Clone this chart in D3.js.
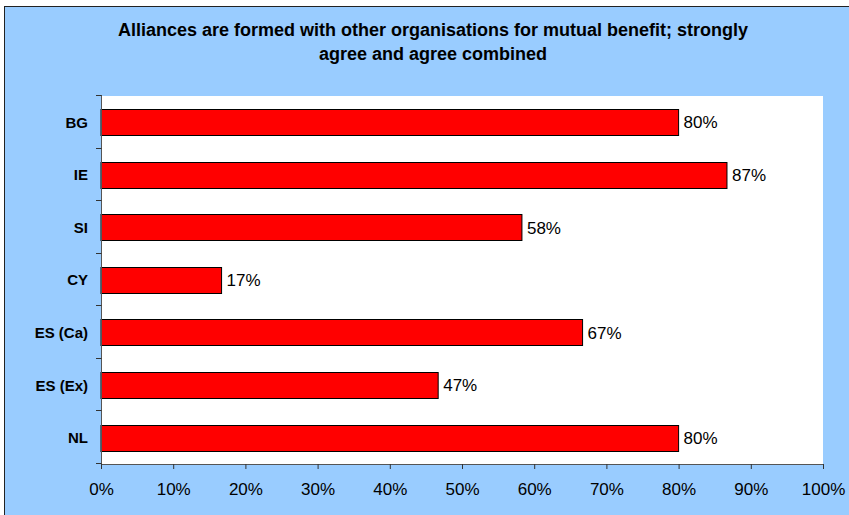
<!DOCTYPE html>
<html>
<head>
<meta charset="utf-8">
<script src="https://cdn.jsdelivr.net/npm/d3@7"></script>
<style>
  body { margin: 0; background: #fff; }
  text { font-family: "Liberation Sans", Arial, sans-serif; fill: #000; }
</style>
</head>
<body>
<div id="chart"></div>
<script>
// data
var categories = ["BG", "IE", "SI", "CY", "ES (Ca)", "ES (Ex)", "NL"];
var values = [0.80, 0.867, 0.583, 0.167, 0.667, 0.467, 0.80];
var tickValues = [0, 0.1, 0.2, 0.3, 0.4, 0.5, 0.6, 0.7, 0.8, 0.9, 1.0];
var titleLines = ["Alliances are formed with other organisations for mutual benefit; strongly",
                  "agree and agree combined"];

var view_width = 849, view_height = 515;
var margin = {top: 96, bottom: 51, left: 101, right: 26};
var width = view_width - margin.left - margin.right;
var height = view_height - margin.top - margin.bottom;

var svg = d3.select("#chart")
    .append("svg")
        .attr("width", view_width)
        .attr("height", view_height);

// outer background with border on left and top
svg.append("rect")
    .attr("x", 4.5).attr("y", 6.5)
    .attr("width", view_width).attr("height", view_height)
    .attr("fill", "#99CCFF")
    .attr("stroke", "#222")
    .attr("stroke-width", 1);

svg.selectAll(".title")
    .data(titleLines)
    .enter()
    .append("text")
        .attr("class", "title")
        .attr("x", 433)
        .attr("y", function(d, i) { return 36 + i * 24; })
        .attr("text-anchor", "middle")
        .style("font-size", "18px")
        .style("font-weight", "bold")
        .text(function(d) { return d; });

var g = svg.append("g")
    .attr("transform", "translate(" + margin.left + "," + margin.top + ")");

g.append("rect")
    .attr("width", width)
    .attr("height", height)
    .attr("fill", "#fff");

var x_scale = d3.scaleLinear()
    .domain([0, 1])
    .range([0, width]);

var y_scale = d3.scaleBand()
    .domain(categories)
    .range([0, height])
    .paddingInner(0.5)
    .paddingOuter(0.25);

var data = categories.map(function(c, i) { return {cat: c, value: values[i]}; });

g.selectAll(".bar")
    .data(data)
    .enter()
    .append("rect")
        .attr("class", "bar")
        .attr("x", x_scale(0))
        .attr("y", function(d) { return Math.round(y_scale(d.cat)) + 0.5; })
        .attr("width", function(d) { return x_scale(d.value); })
        .attr("height", Math.round(y_scale.bandwidth()))
        .attr("fill", "#FF0000")
        .attr("stroke", "#000")
        .attr("stroke-width", 1);

g.selectAll(".val")
    .data(data)
    .enter()
    .append("text")
        .attr("class", "val")
        .attr("x", function(d) { return x_scale(d.value) + 5; })
        .attr("y", function(d) { return y_scale(d.cat) + y_scale.bandwidth() / 2; })
        .attr("dy", "0.36em")
        .style("font-size", "17px")
        .text(function(d) { return d3.format(".0%")(d.value); });

// x axis
var xAxis = g.append("g")
    .attr("transform", "translate(0," + height + ")")
    .call(d3.axisBottom(x_scale).tickValues(tickValues).tickFormat(d3.format(".0%")).tickSizeOuter(0).tickSize(5));
xAxis.select(".domain").attr("stroke", "#555");
xAxis.selectAll(".tick line").attr("stroke", "#333");
xAxis.selectAll(".tick text")
    .attr("y", 31)
    .attr("dy", "0")
    .style("font-size", "17px")
    .style("font-family", "'Liberation Sans', Arial, sans-serif");

// y axis with ticks at category boundaries
var step = y_scale.step();
var yAxis = g.append("g");
yAxis.append("line")
    .attr("x1", 0.5).attr("x2", 0.5)
    .attr("y1", -1).attr("y2", height)
    .attr("stroke", "#555");
yAxis.selectAll(".ytick")
    .data(d3.range(categories.length + 1))
    .enter()
    .append("line")
        .attr("x1", -5).attr("x2", 0.5)
        .attr("y1", function(i) { return Math.round(i * step) - 0.5; })
        .attr("y2", function(i) { return Math.round(i * step) - 0.5; })
        .attr("stroke", "#333");
yAxis.selectAll(".ylab")
    .data(categories)
    .enter()
    .append("text")
        .attr("x", -13)
        .attr("y", function(d) { return y_scale(d) + y_scale.bandwidth() / 2; })
        .attr("dy", "0.36em")
        .attr("text-anchor", "end")
        .style("font-size", "15px")
        .style("font-weight", "bold")
        .text(function(d) { return d; });
</script>
</body>
</html>
